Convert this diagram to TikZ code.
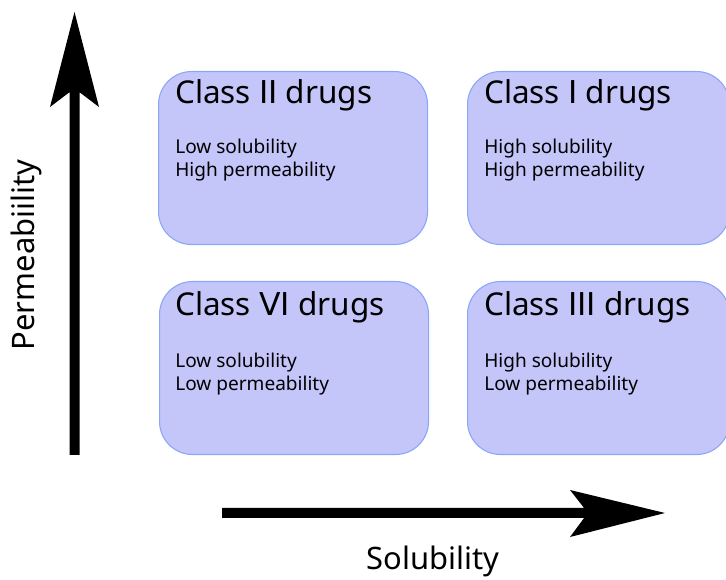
\documentclass[tikz,border=0pt]{standalone}
\usepackage{fontspec}
\setmainfont{Noto Sans}
\newfontfamily\numfont{DejaVu Sans}
\newcommand{\rn}[1]{{\numfont #1}}
\definecolor{boxfill}{HTML}{C4C6FA}
\definecolor{boxline}{HTML}{8AA6F6}
\begin{document}
\begin{tikzpicture}[x=0.75pt,y=-0.75pt,
  box/.style={draw=boxline, fill=boxfill, rounded corners=24.75pt, line width=0.8pt,
    minimum width=201.75pt, minimum height=129.75pt, inner sep=0pt, anchor=north west},
  rbox/.style={box, minimum width=196.5pt},
  title/.style={font=\fontsize{23.6}{28}\selectfont, anchor=base west, inner sep=0pt},
  body/.style={font=\fontsize{14.3}{17}\selectfont, anchor=base west, inner sep=0pt},
  axlabel/.style={font=\fontsize{23.2}{27}\selectfont, inner sep=0pt, anchor=base}]
\useasboundingbox (0,0) rectangle (726,580);
\clip (0,0) rectangle (726,580);
% boxes
\node[box]  (c2) at (158,71) {};
\node[rbox] (c1) at (467,71) {};
\node[box]  (c6) at (159,281) {};
\node[rbox] (c3) at (467,281) {};
% texts
\node[title] (c2t) at ([shift={(17,33)}]c2.north west) {Class \rn{ⅠⅠ} drugs};
\node[body]  (c2a) at ([shift={(17,83)}]c2.north west) {Low solubility};
\node[body]  (c2b) at ([shift={(17,106)}]c2.north west) {High permeability};
\node[title] (c1t) at ([shift={(17,33)}]c1.north west) {Class \rn{Ⅰ} drugs};
\node[body]  (c1a) at ([shift={(17,83)}]c1.north west) {High solubility};
\node[body]  (c1b) at ([shift={(17,106)}]c1.north west) {High permeability};
\node[title] (c6t) at ([shift={(16,35)}]c6.north west) {Class \rn{ⅤⅠ} drugs};
\node[body]  (c6a) at ([shift={(16,87)}]c6.north west) {Low solubility};
\node[body]  (c6b) at ([shift={(16,110)}]c6.north west) {Low permeability};
\node[title] (c3t) at ([shift={(17,35)}]c3.north west) {Class \rn{ⅠⅠⅠ} drugs};
\node[body]  (c3a) at ([shift={(17,87)}]c3.north west) {High solubility};
\node[body]  (c3b) at ([shift={(17,110)}]c3.north west) {Low permeability};
% axes
\fill (69.5,455) -- (69.5,92.2) -- (50,107) -- (74.5,12) -- (99,107) -- (79.5,92.2) -- (79.5,455) -- cycle;
\fill (222,508) -- (584.1,508) -- (570,490) -- (665,513) -- (570,537) -- (584.1,518) -- (222,518) -- cycle;
\node[axlabel] (xl) at (433,570) {Solubility};
\node[axlabel, rotate=90] (yl) at (34,255) {Permeabiility};
\end{tikzpicture}
\end{document}
